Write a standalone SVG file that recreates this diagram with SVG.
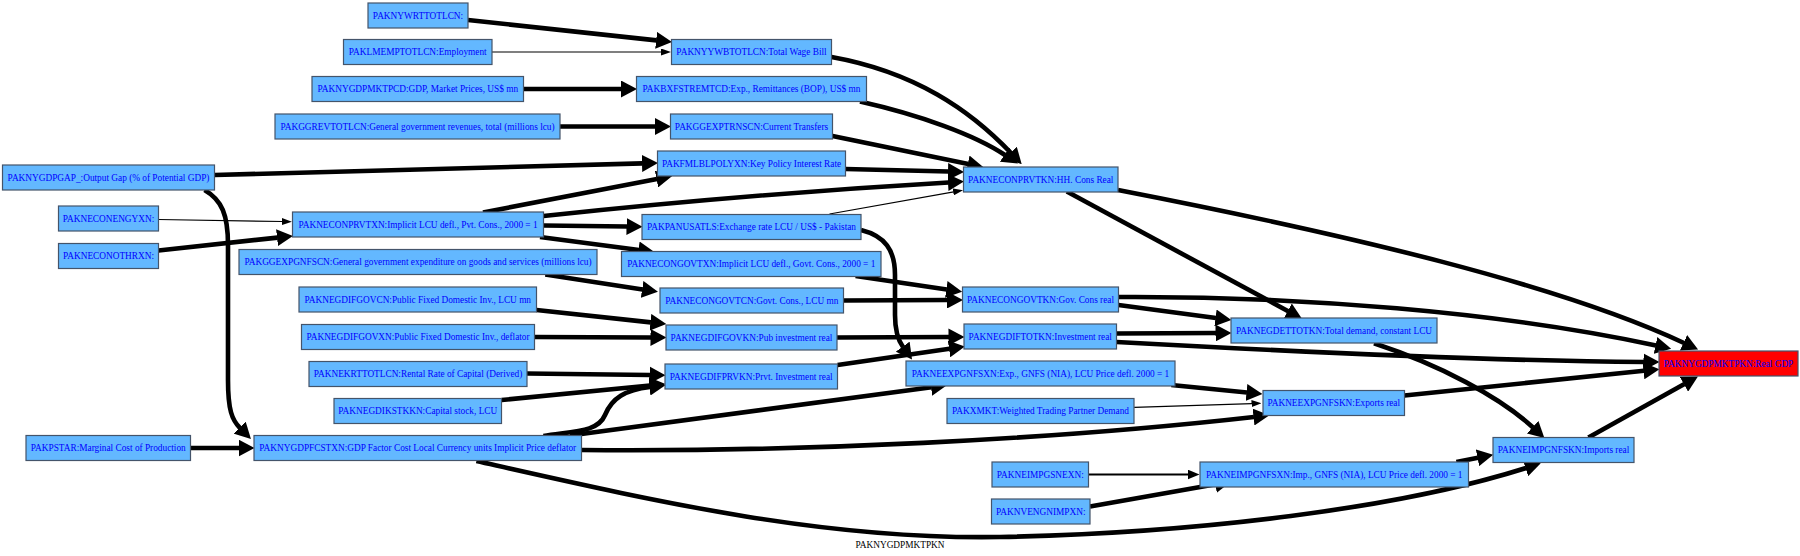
<svg xmlns="http://www.w3.org/2000/svg" width="1800" height="556" viewBox="0 0 1800 556">
<style>
.n rect{fill:#63b8ff;stroke:#44546a;stroke-width:1.2}
.n.r rect{fill:#ff0000}
.n text{font-family:"Liberation Serif",Times,serif;font-size:9.3px;fill:#0000ff;text-anchor:middle}
.e path{fill:none;stroke:#000}
.k{stroke-width:4.6}
.t{stroke-width:1.2}
.m{stroke-width:2.2}
.lbl{font-family:"Liberation Serif",Times,serif;font-size:9.3px;fill:#000;text-anchor:middle}
</style>
<defs>
<marker id="ak" markerUnits="userSpaceOnUse" markerWidth="16" markerHeight="17" viewBox="0 0 16 17" refX="0.5" refY="8.5" orient="auto"><path d="M0,0 L16,8.5 L0,17 z" fill="#000"/></marker>
<marker id="at" markerUnits="userSpaceOnUse" markerWidth="10" markerHeight="7" viewBox="0 0 10 7" refX="0.5" refY="3.5" orient="auto"><path d="M0,0 L10,3.5 L0,7 z" fill="#000"/></marker>
<marker id="am" markerUnits="userSpaceOnUse" markerWidth="12" markerHeight="10" viewBox="0 0 12 10" refX="0.5" refY="5" orient="auto"><path d="M0,0 L12,5 L0,10 z" fill="#000"/></marker>
</defs>
<rect width="1800" height="556" fill="#fff"/>
<g id="edges" class="e">
<path class="k" marker-end="url(#ak)" d="M468,20 L656.6,40.4"/>
<path class="t" marker-end="url(#at)" d="M492,52 L661.5,52"/>
<path class="k" marker-end="url(#ak)" d="M523.5,89 L621.5,89"/>
<path class="k" marker-end="url(#ak)" d="M560,126.5 L655.5,126.5"/>
<path class="k" marker-end="url(#ak)" d="M831.5,57 C915,72 970,110 1011,153"/>
<path class="k" marker-end="url(#ak)" d="M860,101.5 C920,115 975,135 1005,155"/>
<path class="k" marker-end="url(#ak)" d="M832.5,136 L968.3,164"/>
<path class="k" marker-end="url(#ak)" d="M845.5,169 L948.5,171.5"/>
<path class="k" marker-end="url(#ak)" d="M214.5,175 L642.5,163.4"/>
<path class="k" marker-end="url(#ak)" d="M483,212.5 L657,179"/>
<path class="k" marker-end="url(#ak)" d="M543.5,216 Q750,194 948.5,182.5"/>
<path class="k" marker-end="url(#ak)" d="M543.5,225.5 L627,226.5"/>
<path class="k" marker-end="url(#ak)" d="M540,237 L639,250"/>
<path class="t" marker-end="url(#at)" d="M829.5,214 L953.7,191.8"/>
<path class="k" marker-end="url(#ak)" d="M861,230 C885,236 895,250 895,275 L895,315 C895,330 898,340 903,347"/>
<path class="t" marker-end="url(#at)" d="M158.5,219.5 L282.4,221.5"/>
<path class="k" marker-end="url(#ak)" d="M158.5,250.5 L277.5,237.6"/>
<path class="k" marker-end="url(#ak)" d="M204.5,190 C222,200 228,215 228,245 L228,380 C228,410 232,420 240,428"/>
<path class="k" marker-end="url(#ak)" d="M545.3,274.5 L642.6,289.4"/>
<path class="k" marker-end="url(#ak)" d="M855.6,276 L946.8,289.5"/>
<path class="k" marker-end="url(#ak)" d="M843.5,300.5 L947.5,300"/>
<path class="k" marker-end="url(#ak)" d="M536.5,310 L650.9,322.4"/>
<path class="k" marker-end="url(#ak)" d="M534.5,337 L651,337.5"/>
<path class="k" marker-end="url(#ak)" d="M527,373.5 L650,375"/>
<path class="k" marker-end="url(#ak)" d="M501.7,400 L650,385.5"/>
<path class="k" marker-end="url(#ak)" d="M543.4,436 C575,431 598,432 605,415 C612,398 625,390 650,387"/>
<path class="k" marker-end="url(#ak)" d="M837,337.5 L949,337"/>
<path class="k" marker-end="url(#ak)" d="M837.6,365 L949.5,348.8"/>
<path class="k" marker-end="url(#ak)" d="M570,435.5 L931.5,387.2"/>
<path class="k" marker-end="url(#ak)" d="M581.6,450 C800,452 1050,440 1254,417"/>
<path class="k" marker-end="url(#ak)" d="M476.4,461 C650,500 820,540 1000,537 C1200,533 1400,508 1526,468"/>
<path class="k" marker-end="url(#ak)" d="M1171.3,385 L1247,392.5"/>
<path class="t" marker-end="url(#at)" d="M1134.2,407.3 L1252,403.6"/>
<path class="k" marker-end="url(#ak)" d="M1066.8,191.5 L1288.2,311.2"/>
<path class="k" marker-end="url(#ak)" d="M1118,190 C1350,235 1560,285 1684,343"/>
<path class="k" marker-end="url(#ak)" d="M1118.5,305 L1216,318"/>
<path class="k" marker-end="url(#ak)" d="M1118.5,297 C1300,296 1500,312 1656,345.5"/>
<path class="k" marker-end="url(#ak)" d="M1116.6,333.5 L1216,333"/>
<path class="k" marker-end="url(#ak)" d="M1116.6,342 C1300,352 1500,361 1644,362"/>
<path class="k" marker-end="url(#ak)" d="M1374,343.3 C1440,365 1500,397 1533,427.5"/>
<path class="k" marker-end="url(#ak)" d="M1404.5,395.5 L1644,370.8"/>
<path class="k" marker-end="url(#ak)" d="M1588.4,437.5 L1684.4,384"/>
<path class="k" marker-end="url(#ak)" d="M1456.4,462 L1478,457.7"/>
<path class="m" marker-end="url(#am)" d="M1088.5,474.5 L1188,474.5"/>
<path class="k" marker-end="url(#ak)" d="M1090,506.5 L1215.8,484.3"/>
<path class="k" marker-end="url(#ak)" d="M190.5,448 L239,448"/>
</g>
<g id="PAKNYWRTTOTLCN" class="n"><rect x="368" y="3" width="100" height="25"/><text x="418" y="18.7">PAKNYWRTTOTLCN:</text></g>
<g id="PAKLMEMPTOTLCN" class="n"><rect x="343.5" y="39.5" width="148.5" height="25"/><text x="417.75" y="55.2">PAKLMEMPTOTLCN:Employment</text></g>
<g id="PAKNYGDPMKTPCD" class="n"><rect x="312" y="76.5" width="211.5" height="25"/><text x="417.75" y="92.2">PAKNYGDPMKTPCD:GDP, Market Prices, US$ mn</text></g>
<g id="PAKGGREVTOTLCN" class="n"><rect x="275" y="114" width="285" height="25"/><text x="417.5" y="129.7">PAKGGREVTOTLCN:General government revenues, total (millions lcu)</text></g>
<g id="PAKNYYWBTOTLCN" class="n"><rect x="671.5" y="39.5" width="160" height="25"/><text x="751.5" y="55.2">PAKNYYWBTOTLCN:Total Wage Bill</text></g>
<g id="PAKBXFSTREMTCD" class="n"><rect x="636.5" y="76.5" width="230" height="25"/><text x="751.5" y="92.2">PAKBXFSTREMTCD:Exp., Remittances (BOP), US$ mn</text></g>
<g id="PAKGGEXPTRNSCN" class="n"><rect x="670.5" y="114" width="162" height="25"/><text x="751.5" y="129.7">PAKGGEXPTRNSCN:Current Transfers</text></g>
<g id="PAKFMLBLPOLYXN" class="n"><rect x="657.5" y="151" width="188" height="25"/><text x="751.5" y="166.7">PAKFMLBLPOLYXN:Key Policy Interest Rate</text></g>
<g id="PAKNYGDPGAP_" class="n"><rect x="2.5" y="165" width="212" height="25"/><text x="108.5" y="180.7">PAKNYGDPGAP_:Output Gap (% of Potential GDP)</text></g>
<g id="PAKNECONPRVTKN" class="n"><rect x="963.5" y="167" width="154.5" height="25"/><text x="1040.75" y="182.7">PAKNECONPRVTKN:HH. Cons Real</text></g>
<g id="PAKNECONENGYXN" class="n"><rect x="58.5" y="206" width="100" height="25"/><text x="108.5" y="221.7">PAKNECONENGYXN:</text></g>
<g id="PAKNECONPRVTXN" class="n"><rect x="292.5" y="212" width="251" height="25"/><text x="418" y="227.7">PAKNECONPRVTXN:Implicit LCU defl., Pvt. Cons., 2000 = 1</text></g>
<g id="PAKPANUSATLS" class="n"><rect x="642" y="214.5" width="219" height="25"/><text x="751.5" y="230.2">PAKPANUSATLS:Exchange rate LCU / US$ - Pakistan</text></g>
<g id="PAKNECONOTHRXN" class="n"><rect x="58.5" y="243.5" width="100" height="25"/><text x="108.5" y="259.2">PAKNECONOTHRXN:</text></g>
<g id="PAKGGEXPGNFSCN" class="n"><rect x="239" y="249.5" width="358" height="25"/><text x="418" y="265.2">PAKGGEXPGNFSCN:General government expenditure on goods and services (millions lcu)</text></g>
<g id="PAKNECONGOVTXN" class="n"><rect x="621.5" y="251.5" width="259.5" height="25"/><text x="751.25" y="267.2">PAKNECONGOVTXN:Implicit LCU defl., Govt. Cons., 2000 = 1</text></g>
<g id="PAKNEGDIFGOVCN" class="n"><rect x="299" y="287" width="237.5" height="25"/><text x="417.75" y="302.7">PAKNEGDIFGOVCN:Public Fixed Domestic Inv., LCU mn</text></g>
<g id="PAKNECONGOVTCN" class="n"><rect x="660" y="288" width="183.5" height="25"/><text x="751.75" y="303.7">PAKNECONGOVTCN:Govt. Cons., LCU mn</text></g>
<g id="PAKNECONGOVTKN" class="n"><rect x="962.5" y="287" width="156" height="25"/><text x="1040.5" y="302.7">PAKNECONGOVTKN:Gov. Cons real</text></g>
<g id="PAKNEGDIFGOVXN" class="n"><rect x="301.5" y="324.5" width="233" height="25"/><text x="418" y="340.2">PAKNEGDIFGOVXN:Public Fixed Domestic Inv., deflator</text></g>
<g id="PAKNEGDIFGOVKN" class="n"><rect x="666" y="325" width="171" height="25"/><text x="751.5" y="340.7">PAKNEGDIFGOVKN:Pub investment real</text></g>
<g id="PAKNEGDIFTOTKN" class="n"><rect x="964" y="324" width="152.5" height="25"/><text x="1040.25" y="339.7">PAKNEGDIFTOTKN:Investment real</text></g>
<g id="PAKNEGDETTOTKN" class="n"><rect x="1231" y="318" width="206" height="25"/><text x="1334" y="333.7">PAKNEGDETTOTKN:Total demand, constant LCU</text></g>
<g id="PAKNYGDPMKTPKN" class="n r"><rect x="1659" y="351" width="139" height="25"/><text x="1728.5" y="366.7">PAKNYGDPMKTPKN:Real GDP</text></g>
<g id="PAKNEKRTTOTLCN" class="n"><rect x="309" y="361.5" width="218" height="25"/><text x="418" y="377.2">PAKNEKRTTOTLCN:Rental Rate of Capital (Derived)</text></g>
<g id="PAKNEGDIFPRVKN" class="n"><rect x="665" y="364" width="172.5" height="25"/><text x="751.25" y="379.7">PAKNEGDIFPRVKN:Prvt. Investment real</text></g>
<g id="PAKNEEXPGNFSXN" class="n"><rect x="906" y="361" width="269" height="25"/><text x="1040.5" y="376.7">PAKNEEXPGNFSXN:Exp., GNFS (NIA), LCU Price defl. 2000 = 1</text></g>
<g id="PAKNEGDIKSTKKN" class="n"><rect x="334" y="398.5" width="167.5" height="25"/><text x="417.75" y="414.2">PAKNEGDIKSTKKN:Capital stock, LCU</text></g>
<g id="PAKXMKT" class="n"><rect x="947" y="398.5" width="187" height="25"/><text x="1040.5" y="414.2">PAKXMKT:Weighted Trading Partner Demand</text></g>
<g id="PAKNEEXPGNFSKN" class="n"><rect x="1263" y="390.5" width="141.5" height="25"/><text x="1333.75" y="406.2">PAKNEEXPGNFSKN:Exports real</text></g>
<g id="PAKPSTAR" class="n"><rect x="26" y="435.5" width="164.5" height="25"/><text x="108.25" y="451.2">PAKPSTAR:Marginal Cost of Production</text></g>
<g id="PAKNYGDPFCSTXN" class="n"><rect x="254" y="435.5" width="327.5" height="25"/><text x="417.75" y="451.2">PAKNYGDPFCSTXN:GDP Factor Cost Local Currency units Implicit Price deflator</text></g>
<g id="PAKNEIMPGNFSKN" class="n"><rect x="1493" y="437.5" width="141" height="25"/><text x="1563.5" y="453.2">PAKNEIMPGNFSKN:Imports real</text></g>
<g id="PAKNEIMPGSNEXN" class="n"><rect x="992" y="462" width="96.5" height="25"/><text x="1040.25" y="477.7">PAKNEIMPGSNEXN:</text></g>
<g id="PAKNEIMPGNFSXN" class="n"><rect x="1200" y="462" width="268.5" height="25"/><text x="1334.25" y="477.7">PAKNEIMPGNFSXN:Imp., GNFS (NIA), LCU Price defl. 2000 = 1</text></g>
<g id="PAKNVENGNIMPXN" class="n"><rect x="991.5" y="499" width="98.5" height="25"/><text x="1040.75" y="514.7">PAKNVENGNIMPXN:</text></g>
<text class="lbl" x="900" y="548">PAKNYGDPMKTPKN</text>
</svg>
